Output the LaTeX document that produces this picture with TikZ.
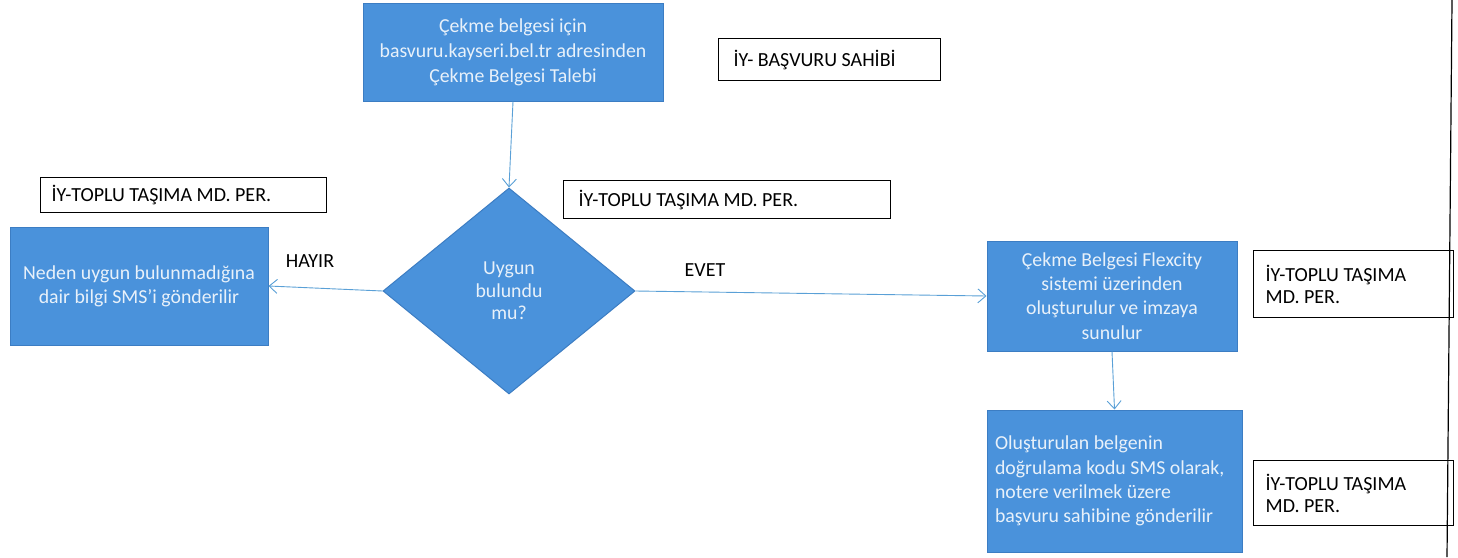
\documentclass[tikz,border=0pt]{standalone}
\usepackage{fontspec}
\setmainfont{Carlito}
\usetikzlibrary{shapes.geometric,arrows.meta}
\definecolor{boxblue}{RGB}{74,146,219}
\definecolor{boxedge}{RGB}{60,125,195}
\definecolor{boxtext}{RGB}{232,241,250}
\definecolor{linkblue}{RGB}{90,160,215}
\begin{document}
\begin{tikzpicture}[x=1pt,y=-1pt,
  proc/.style={draw=boxedge,line width=1pt,fill=boxblue,text=boxtext,inner sep=4pt,
    font=\fontsize{19.8}{24.3}\selectfont,align=center},
  dec/.style={diamond,draw=boxedge,line width=1pt,fill=boxblue,text=boxtext,inner sep=0pt,
    font=\fontsize{19.8}{22.5}\selectfont,align=center},
  role/.style={draw=black,line width=1.3pt,fill=white,text=black,inner sep=0pt,
    font=\fontsize{20}{22}\selectfont,align=flush left,anchor=north west},
  link/.style={draw=linkblue,line width=0.9pt,-{Straight Barb[length=8pt,width=14pt]}},
  lab/.style={font=\fontsize{20}{22}\selectfont,text=black}
]
\useasboundingbox (0,0) rectangle (1458,557);
\fill[white] (0,0) rectangle (1458,557);

% process boxes
\node[proc,minimum width=300pt,minimum height=98pt,font=\fontsize{19.8}{25}\selectfont] (req) at (513,52)
  {Çekme belgesi için\\basvuru.kayseri.bel.tr adresinden\\Çekme Belgesi Talebi};
\node[dec,minimum width=252pt,minimum height=206pt] (dec) at (509,291)
  {Uygun\\bulundu\\mu?};
\node[proc,minimum width=258pt,minimum height=118pt] (no) at (139,286)
  {Neden uygun bulunmadığına\\dair bilgi SMS'i gönderilir};
\node[proc,minimum width=250pt,minimum height=110pt] (cre) at (1112,296)
  {Çekme Belgesi Flexcity\\sistemi üzerinden\\oluşturulur ve imzaya\\sunulur};
\node[proc,minimum width=255pt,minimum height=142pt,align=flush left,text width=239pt] (sms) at (1114.5,481)
  {Oluşturulan belgenin\\doğrulama kodu SMS olarak,\\notere verilmek üzere\\başvuru sahibine gönderilir};

% role labels
\node[role,minimum width=222pt,minimum height=42pt,text width=212pt] (r1) at (718,38)
  {\hspace*{10pt}İY- BAŞVURU SAHİBİ};
\node[role,minimum width=286pt,minimum height=35pt,text width=276pt] (r2) at (40,177)
  {\hspace*{6pt}İY-TOPLU TAŞIMA MD. PER.};
\node[role,minimum width=327pt,minimum height=38pt,text width=317pt] (r3) at (563,180)
  {\hspace*{10pt}İY-TOPLU TAŞIMA MD. PER.};
\node[role,minimum width=190pt,minimum height=67pt,text width=176pt,inner xsep=12pt] (r4) at (1253,250)
  {İY-TOPLU TAŞIMA\\MD. PER.};
\node[role,minimum width=190pt,minimum height=65pt,text width=176pt,inner xsep=12pt] (r5) at (1253,460)
  {İY-TOPLU TAŞIMA\\MD. PER.};

% connectors
\draw[link] (req.south) -- (dec.north);
\draw[link] (dec.west) -- (no.east);
\draw[link] (dec.east) -- (cre.west);
\draw[link] (cre.south) -- (sms.north);

\node[lab] (hayir) at (310,261) {HAYIR};
\node[lab] (evet) at (705,270) {EVET};

% page edge line
\coordinate (et) at (1452,0);
\coordinate (eb) at (1447,557);
\draw[black,line width=1.2pt] (et) -- (eb);
\end{tikzpicture}
\end{document}
